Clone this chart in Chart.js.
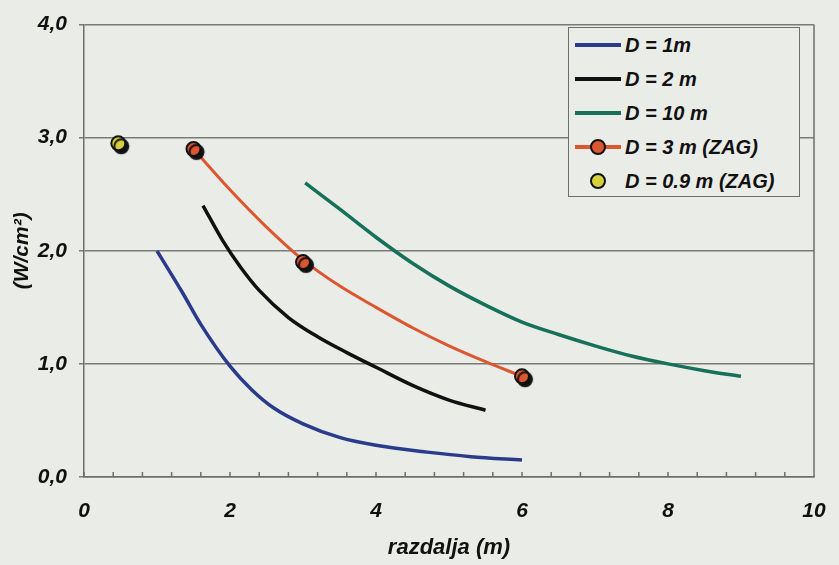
<!DOCTYPE html>
<html>
<head>
<meta charset="utf-8">
<script src="https://cdn.jsdelivr.net/npm/chart.js@4"></script>
<style>
  html, body { margin: 0; padding: 0; background: #eaece7; }
  #wrap { position: relative; width: 839px; height: 565px; }
  #legend {
    position: absolute; left: 568px; top: 27px; width: 232px; height: 170px;
    border: 1.5px solid #6e6e6e; background: #eaece7; box-sizing: border-box;
    font: italic bold 20px Arial, "Liberation Sans", sans-serif; color: #111;
  }
  .row { height: 34px; display: flex; align-items: center; }
  .sw { position: relative; width: 46px; height: 20px; margin-left: 6px; margin-right: 4px; }
  .sw .ln { position: absolute; left: 0; right: 0; top: 8px; height: 4px; }
  .sw .dot { position: absolute; left: 15px; top: 2px; width: 12px; height: 12px;
             border: 2px solid #111; border-radius: 50%; }
</style>
</head>
<body>
<div id="wrap">
  <canvas id="chart"></canvas>
  <div id="legend"></div>
</div>
<script>
// ── Data ─────────────────────────────────────────────────────────────────
const labels = ['D = 1m', 'D = 2 m', 'D = 10 m', 'D = 3 m (ZAG)', 'D = 0.9 m (ZAG)'];

const d1X  = [1.0, 1.34, 1.6, 2.0, 2.3, 2.6, 3.0, 3.5, 4.0, 4.7, 5.3, 6.0];
const d1Y  = [2.0, 1.64, 1.35, 0.98, 0.77, 0.61, 0.47, 0.35, 0.28, 0.22, 0.18, 0.15];

const d2X  = [1.63, 1.9, 2.15, 2.4, 2.8, 3.2, 3.6, 4.0, 4.5, 5.0, 5.5];
const d2Y  = [2.40, 2.09, 1.85, 1.65, 1.41, 1.24, 1.10, 0.97, 0.81, 0.68, 0.59];

const d10X = [3.03, 3.5, 4.0, 4.5, 5.0, 5.5, 6.0, 6.5, 7.0, 7.5, 8.0, 8.5, 9.0];
const d10Y = [2.60, 2.37, 2.12, 1.89, 1.69, 1.52, 1.37, 1.26, 1.16, 1.07, 1.00, 0.94, 0.89];

const d3X  = [1.5, 2.0, 2.5, 3.0, 3.5, 4.0, 4.5, 5.0, 5.5, 6.0];
const d3Y  = [2.90, 2.54, 2.21, 1.92, 1.69, 1.50, 1.32, 1.16, 1.02, 0.89];

// measured points (ZAG)
const zag3X = [1.5, 3.0, 6.0];
const zag3Y = [2.90, 1.90, 0.89];
const zag09X = [0.47];
const zag09Y = [2.95];

const yTicks = [0, 1, 2, 3, 4];

const colors = ['#2a3b8c', '#111111', '#17705a', '#dc5630', '#d8cf3c'];

const pts = (xs, ys) => xs.map((x, i) => ({ x, y: ys[i] }));
const FONT = 'Arial, "Liberation Sans", sans-serif';

// ── Legend (HTML) ─────────────────────────────────────────────────────────
(function () {
  const box = document.getElementById('legend');
  labels.forEach((txt, i) => {
    const row = document.createElement('div');
    row.className = 'row';
    const sw = document.createElement('div');
    sw.className = 'sw';
    if (i < 4) {
      const ln = document.createElement('div');
      ln.className = 'ln';
      ln.style.background = colors[i];
      sw.appendChild(ln);
    }
    if (i >= 3) {
      const dot = document.createElement('div');
      dot.className = 'dot';
      dot.style.background = colors[i];
      sw.appendChild(dot);
    }
    const t = document.createElement('span');
    t.textContent = txt;
    row.appendChild(sw);
    row.appendChild(t);
    box.appendChild(row);
  });
})();

// ── Plugins ───────────────────────────────────────────────────────────────
const markerShadow = {
  id: 'markerShadow',
  beforeDatasetDraw(chart, args) {
    if (!chart.data.datasets[args.index].shadow) return;
    const ctx = chart.ctx;
    ctx.save();
    ctx.shadowColor = '#111';
    ctx.shadowOffsetX = 3;
    ctx.shadowOffsetY = 3;
    ctx.shadowBlur = 1;
  },
  afterDatasetDraw(chart, args) {
    if (!chart.data.datasets[args.index].shadow) return;
    chart.ctx.restore();
  }
};

const frame = {
  id: 'frame',
  afterDraw(chart) {
    const { ctx, chartArea: a, scales: { x } } = chart;
    ctx.save();
    ctx.strokeStyle = '#6e6e6e';
    ctx.lineWidth = 1.5;
    ctx.beginPath();
    ctx.moveTo(a.right, a.top);
    ctx.lineTo(a.right, a.bottom);
    // small inward ticks on the x axis
    x.ticks.forEach(t => {
      const px = x.getPixelForValue(t.value);
      ctx.moveTo(px, a.bottom);
      ctx.lineTo(px, a.bottom - 5);
    });
    ctx.stroke();
    ctx.restore();
  }
};

// ── Chart ─────────────────────────────────────────────────────────────────
const lineDs = (i, xs, ys, w) => ({
  label: labels[i],
  data: pts(xs, ys),
  borderColor: colors[i],
  borderWidth: w,
  pointRadius: 0,
  fill: false,
  cubicInterpolationMode: 'monotone',
  order: 2
});

new Chart(document.getElementById('chart'), {
  type: 'line',
  data: {
    datasets: [
      lineDs(0, d1X, d1Y, 3.5),
      lineDs(1, d2X, d2Y, 3.5),
      lineDs(2, d10X, d10Y, 3.5),
      lineDs(3, d3X, d3Y, 3),
      {
        label: labels[3] + ' pts',
        data: pts(zag3X, zag3Y),
        showLine: false,
        pointRadius: 7,
        pointBackgroundColor: colors[3],
        pointBorderColor: '#111',
        pointBorderWidth: 2,
        shadow: true,
        order: 0
      },
      {
        label: labels[4],
        data: pts(zag09X, zag09Y),
        showLine: false,
        pointRadius: 7,
        pointBackgroundColor: colors[4],
        pointBorderColor: '#111',
        pointBorderWidth: 2,
        shadow: true,
        order: 0
      }
    ]
  },
  options: {
    responsive: true,
    maintainAspectRatio: false,
    animation: false,
    layout: { padding: { top: 20, right: 25, left: 0, bottom: 0 } },
    plugins: { legend: { display: false }, tooltip: { enabled: false } },
    scales: {
      x: {
        type: 'linear',
        min: 0,
        max: 10,
        afterFit: s => { s.height = 88; s.paddingRight = 0; s.paddingLeft = 0; },
        border: { color: '#6e6e6e', width: 1.5 },
        grid: { drawOnChartArea: false, drawTicks: false },
        ticks: {
          stepSize: 0.4,
          autoSkip: false,
          maxRotation: 0,
          padding: 22,
          color: '#111',
          font: { family: FONT, size: 21, style: 'italic', weight: 'bold' },
          callback: v => (Math.abs(v / 2 - Math.round(v / 2)) < 1e-6 ? String(Math.round(v)) : '')
        },
        title: {
          display: true,
          text: 'razdalja (m)',
          color: '#111',
          padding: { bottom: 4 },
          font: { family: FONT, size: 22, style: 'italic', weight: 'bold' }
        }
      },
      y: {
        min: 0,
        max: 4,
        afterFit: s => { s.width = 84; },
        afterBuildTicks: s => { s.ticks = yTicks.map(v => ({ value: v })); },
        border: { color: '#6e6e6e', width: 1.5 },
        grid: { color: '#7a7a7a', lineWidth: 1.5, tickLength: 5 },
        ticks: {
          padding: 12,
          color: '#111',
          font: { family: FONT, size: 21, style: 'italic', weight: 'bold' },
          callback: v => v.toFixed(1).replace('.', ',')
        },
        title: {
          display: true,
          text: '(W/cm²)',
          color: '#111',
          padding: { top: 10 },
          font: { family: FONT, size: 21, style: 'italic', weight: 'bold' }
        }
      }
    }
  },
  plugins: [markerShadow, frame]
});
</script>
</body>
</html>
